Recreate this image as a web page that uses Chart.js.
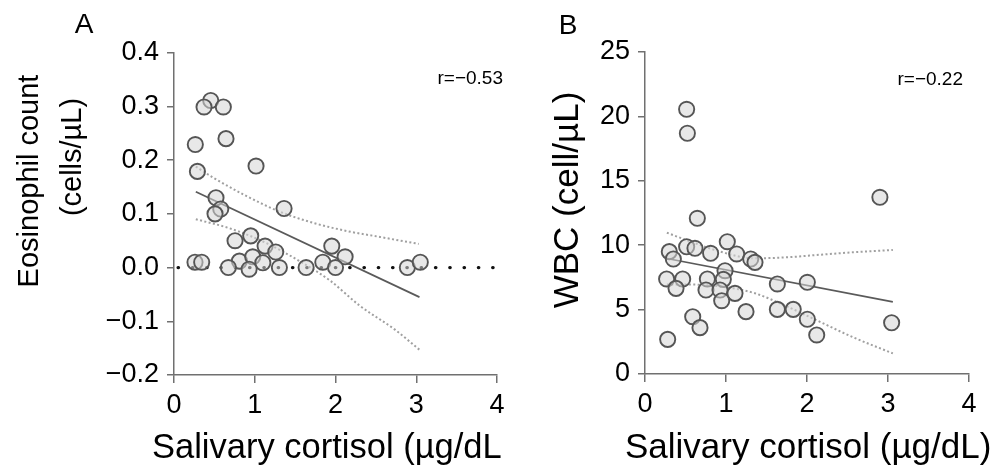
<!DOCTYPE html>
<html><head><meta charset="utf-8">
<script src="https://cdn.jsdelivr.net/npm/chart.js@4.4.1/dist/chart.umd.min.js"></script>
<style>
html,body{margin:0;padding:0;background:#fff;width:1001px;height:469px;overflow:hidden}
canvas{position:absolute;left:0;top:0}
</style></head>
<body>
<canvas id="ca" width="1001" height="469"></canvas>
<canvas id="cb" width="1001" height="469"></canvas>
<script>
// ---------- Panel A data ----------
const cortisolA = [0.455,0.372,0.611,0.264,0.644,0.29,1.016,0.52,0.579,0.508,1.363,0.756,0.95,1.128,1.26,0.81,0.975,1.10,0.26,0.343,0.673,0.93,1.305,1.636,1.843,1.954,2.119,2.0,2.89,3.05];
const eosinophilA = [0.311,0.299,0.299,0.229,0.240,0.179,0.189,0.130,0.109,0.100,0.110,0.050,0.059,0.040,0.029,0.012,0.020,0.009,0.010,0.010,0.0,-0.003,0.0,0.0,0.010,0.040,0.020,0.0,0.0,0.010];
const fitXA = [0.27, 3.04];
const fitYA = [0.141, -0.055];
const ciUpXA = [0.27,0.49,0.90,1.31,1.73,2.14,2.55,3.03];
const ciUpYA = [0.188,0.167,0.133,0.104,0.083,0.068,0.057,0.044];
const ciLoXA = [0.27,0.69,1.11,1.52,1.93,2.30,2.74,3.04];
const ciLoYA = [0.090,0.073,0.048,0.015,-0.024,-0.071,-0.116,-0.153];
const refXA = [0.05, 4.0];
const refYA = [0, 0];
const yTicksA = [-0.2,-0.1,0,0.1,0.2,0.3,0.4];
const yTickLabelsA = ['\u22120.2','\u22120.1','0.0','0.1','0.2','0.3','0.4'];

// ---------- Panel B data ----------
const cortisolB = [0.514,0.523,2.90,0.646,1.016,0.30,0.35,0.514,0.617,0.81,1.132,1.305,1.358,0.988,0.967,0.77,0.267,0.465,0.383,0.753,0.926,1.111,0.947,1.634,2.004,1.247,1.634,1.83,2.004,2.12,0.589,0.679,0.28,3.045];
const wbcB = [20.55,18.69,13.72,12.09,10.27,9.50,8.93,9.88,9.76,9.37,9.32,8.93,8.67,8.02,7.35,7.38,7.38,7.38,6.65,6.52,6.52,6.26,5.69,6.99,7.12,4.84,5.02,5.02,4.25,3.03,4.45,3.60,2.69,3.98];
const fitXB = [0.27, 3.06];
const fitYB = [8.97, 5.60];
const ciUpXB = [0.27,0.51,0.93,1.34,1.75,2.16,2.57,3.06];
const ciUpYB = [10.97,10.40,9.50,8.98,9.06,9.26,9.45,9.63];
const ciLoXB = [0.27,0.51,0.93,1.34,1.75,2.16,2.57,3.06];
const ciLoYB = [6.95,6.95,6.80,6.30,5.25,4.05,2.85,1.60];
const yTicksB = [0,5,10,15,20,25];
const yTickLabelsB = ['0','5','10','15','20','25'];

// ---------- shared ----------
const xTicks = [0,1,2,3,4];
const xTickLabels = ['0','1','2','3','4'];
const FONT = '"Liberation Sans", Arial, Helvetica, sans-serif';
const AXIS = '#707070';

function pts(xs, ys){ return xs.map((x,i)=>({x:x, y:ys[i]})); }

function textPlugin(items){
  return {
    id:'panelTexts',
    afterDraw(chart){
      const ctx = chart.ctx;
      items.forEach(t=>{
        ctx.save();
        ctx.font = t.size + 'px ' + FONT;
        ctx.fillStyle = '#000';
        ctx.textAlign = t.align || 'center';
        ctx.textBaseline = t.base || 'middle';
        ctx.translate(t.x, t.y);
        if (t.rot) ctx.rotate(t.rot);
        ctx.fillText(t.text, 0, 0);
        ctx.restore();
      });
    }
  };
}

function makePanel(canvas, p){
  const datasets = [
    { label:'points', data: pts(p.xs, p.ys), pointRadius:7.6, pointHoverRadius:7.6,
      backgroundColor:'rgba(214,214,214,0.55)', borderColor:'#555', borderWidth:1.9,
      showLine:false, order:0, clip:false },
    { label:'fit', data: pts(p.fitX, p.fitY), showLine:true, pointRadius:0,
      borderColor:'#5a5a5a', borderWidth:1.7, order:1 },
    { label:'ciUp', data: pts(p.upX, p.upY), showLine:true, pointRadius:0,
      borderColor:'#a0a0a0', borderWidth:2, borderDash:[2,2.4], cubicInterpolationMode:'monotone', order:2 },
    { label:'ciLo', data: pts(p.loX, p.loY), showLine:true, pointRadius:0,
      borderColor:'#a0a0a0', borderWidth:2, borderDash:[2,2.4], cubicInterpolationMode:'monotone', order:2 }
  ];
  if (p.refX) {
    datasets.push({ label:'zero', data: pts(p.refX, p.refY), showLine:true, pointRadius:0,
      borderColor:'#111', borderWidth:3.2, borderDash:[0.5,13.8], borderCapStyle:'round', order:3 });
  }
  return new Chart(canvas, {
    type:'scatter',
    data:{ datasets },
    plugins:[textPlugin(p.texts)],
    options:{
      responsive:false, animation:false, devicePixelRatio:1,
      events:[],
      layout:{ padding:{ left:0, top:p.top, right:p.right, bottom:0 } },
      plugins:{ legend:{display:false}, tooltip:{enabled:false} },
      scales:{
        x:{ type:'linear', min:0, max:4,
          afterBuildTicks: s=>{ s.ticks = xTicks.map(v=>({value:v})); },
          afterFit: s=>{ s.height = p.bottom; },
          ticks:{ callback:(v,i)=>xTickLabels[i], font:{size:27, family:FONT}, color:'#000', padding:6, maxRotation:0, autoSkip:false },
          grid:{ drawOnChartArea:false, drawTicks:true, tickLength:8, color:AXIS, lineWidth:1.5 },
          border:{ display:true, color:AXIS, width:1.5 } },
        y:{ type:'linear', min:p.yMin, max:p.yMax,
          afterBuildTicks: s=>{ s.ticks = p.yTicks.map(v=>({value:v})); },
          afterFit: s=>{ s.width = p.left; },
          ticks:{ callback:(v,i)=>p.yLabels[i], font:{size:27, family:FONT}, color:'#000', padding:8, autoSkip:false },
          grid:{ drawOnChartArea:false, drawTicks:true, tickLength:7, color:AXIS, lineWidth:1.5 },
          border:{ display:true, color:AXIS, width:1.5 } }
      }
    }
  });
}

makePanel(document.getElementById('ca'), {
  xs:cortisolA, ys:eosinophilA, fitX:fitXA, fitY:fitYA,
  upX:ciUpXA, upY:ciUpYA, loX:ciLoXA, loY:ciLoYA, refX:refXA, refY:refYA,
  yMin:-0.2, yMax:0.4, yTicks:yTicksA, yLabels:yTickLabelsA,
  left:174, top:52.7, right:1001-497, bottom:469-375,
  texts:[
    {text:'A', x:84, y:25, size:28},
    {text:'Eosinophil count', x:30, y:181, size:29, rot:-Math.PI/2},
    {text:'(cells/\u00b5L)', x:73, y:157, size:29, rot:-Math.PI/2},
    {text:'Salivary cortisol (\u00b5g/dL', x:152, y:458, size:34.5, align:'left', base:'alphabetic'},
    {text:'r=\u22120.53', x:503, y:79, size:19, align:'right'}
  ]
});

makePanel(document.getElementById('cb'), {
  xs:cortisolB, ys:wbcB, fitX:fitXB, fitY:fitYB,
  upX:ciUpXB, upY:ciUpYB, loX:ciLoXB, loY:ciLoYB,
  yMin:0, yMax:25, yTicks:yTicksB, yLabels:yTickLabelsB,
  left:645, top:52, right:1001-969, bottom:469-374,
  texts:[
    {text:'B', x:568, y:26, size:28},
    {text:'WBC (cell/\u00b5L)', x:568, y:200, size:35, rot:-Math.PI/2},
    {text:'Salivary cortisol (\u00b5g/dL)', x:625, y:458, size:35, align:'left', base:'alphabetic'},
    {text:'r=\u22120.22', x:963, y:80, size:19, align:'right'}
  ]
});
</script>
</body></html>
